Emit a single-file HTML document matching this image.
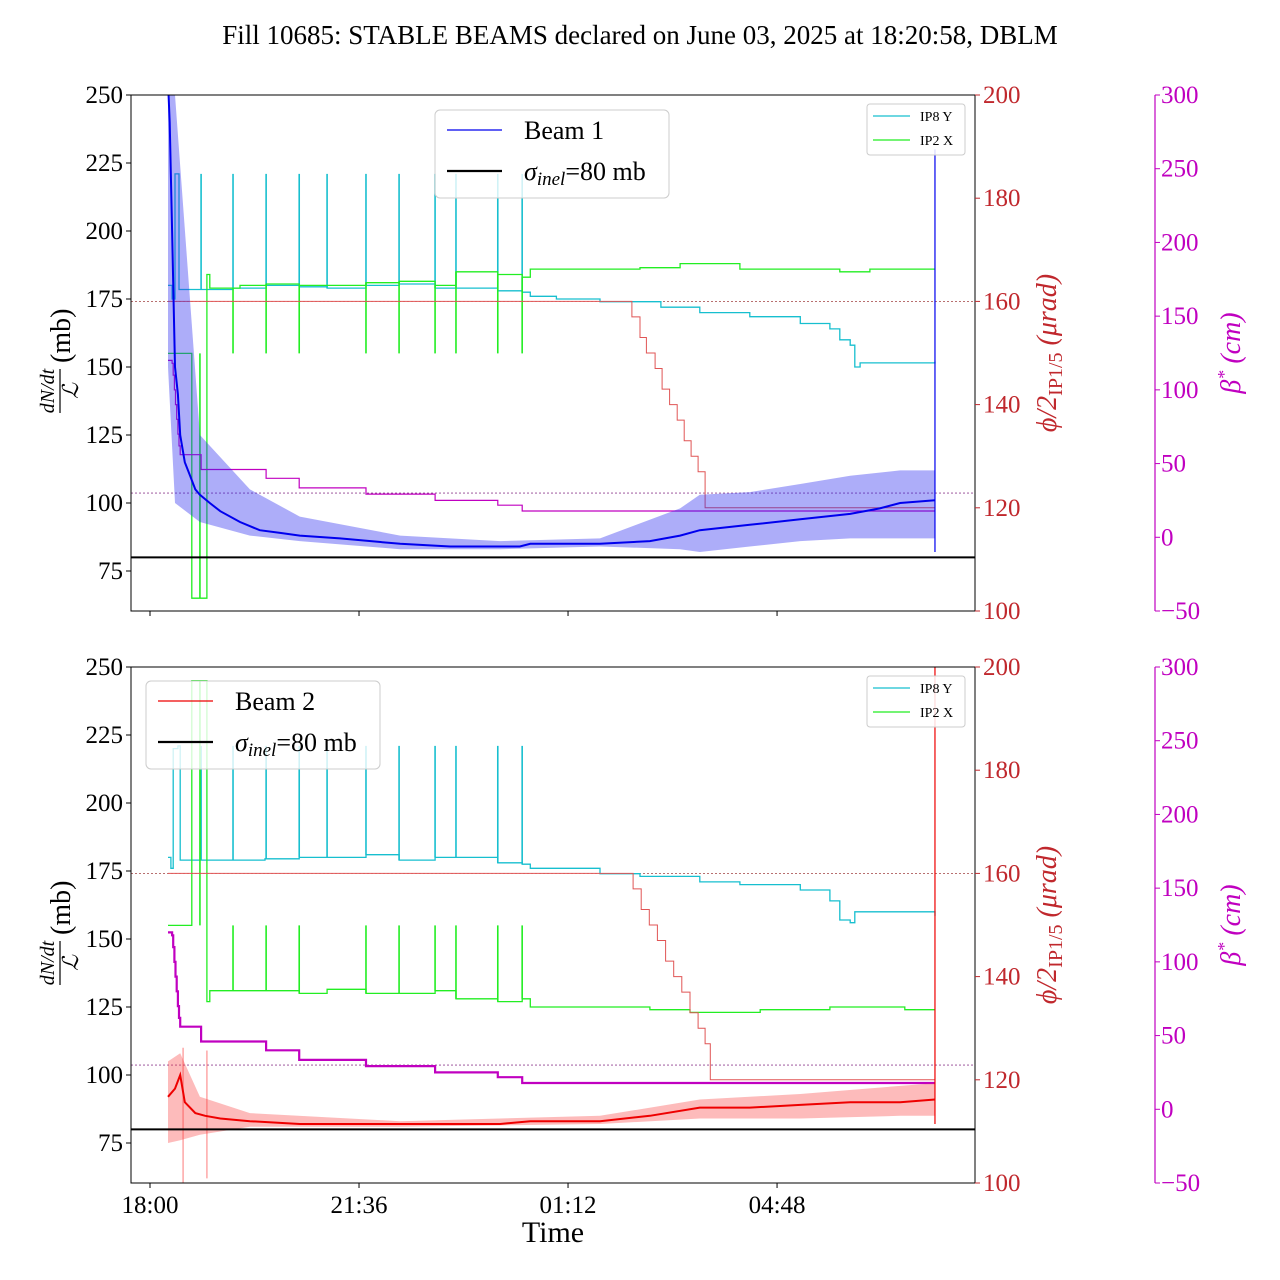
<!DOCTYPE html>
<html><head><meta charset="utf-8">
<style>
html,body{margin:0;padding:0;background:#fff;}
svg{display:block;font-family:"Liberation Serif",serif;}
</style></head>
<body>
<svg id="chart" width="1280" height="1280" viewBox="0 0 1280 1280" xmlns="http://www.w3.org/2000/svg">
<defs>
<clipPath id="clipTop"><rect x="131" y="95" width="844" height="516"/></clipPath>
<clipPath id="clipBot"><rect x="131" y="667" width="844" height="516"/></clipPath>
</defs>
<text x="640" y="44" font-size="27" text-anchor="middle">Fill 10685: STABLE BEAMS declared on June 03, 2025 at 18:20:58, DBLM</text>
<g id="layer"></g>
</svg>
<script>
// ---- data (hours since 18:00) ----
const xTickLabels = ["18:00","21:36","01:12","04:48"];
const xTickHours = [0,3.6,7.2,10.8];
const leftTicks = [75,100,125,150,175,200,225,250];
const redTicks = [100,120,140,160,180,200];
const magTicks = [-50,0,50,100,150,200,250,300];

const spikeT = [0.88,1.43,2.0,2.57,3.05,3.72,4.29,4.91,5.27,5.99,6.41];
const greenSpikeT = [1.43,2.0,2.57,3.72,4.29,4.91,5.27,5.99,6.41];

const b1T = [0.31,0.34,0.38,0.43,0.48,0.52,0.60,0.69,0.78,0.86,1.03,1.21,1.55,1.89,2.24,2.58,3.27,4.31,5.17,6.03,6.37,6.55,7.75,8.61,9.13,9.47,10.33,11.2,12.06,12.57,12.92,13.52];
const b1V = [255,240,200,150,140,125,115,110,105,103,100,97,93,90,89,88,87,85,84,84,84,85,85,86,88,90,92,94,96,98,100,101];
const b1BandT = [0.31,0.43,0.86,1.72,2.58,4.31,6.03,7.75,9.13,9.47,10.33,11.2,12.06,12.92,13.52];
const b1Up = [255,250,125,105,95,88,86,87,98,103,104,107,110,112,112];
const b1Lo = [150,100,93,88,86,83,83,84,83,82,84,86,87,87,87];

const b2T = [0.31,0.43,0.52,0.60,0.78,0.95,1.21,1.72,2.58,4.31,6.03,6.55,7.75,8.61,9.47,10.33,11.2,12.06,12.92,13.52];
const b2V = [92,95,100,90,86,85,84,83,82,82,82,83,83,85,88,88,89,90,90,91];
const b2BandT = [0.31,0.52,0.86,1.72,4.31,7.75,9.47,11.2,12.92,13.52];
const b2Up = [105,108,92,86,83,85,91,93,96,97];
const b2Lo = [75,76,78,81,81,82,84,84,85,85];
const b2SpikeT = [0.57,0.98];
const b2SpikeHi = [110,109];
const b2SpikeLo = [60,62];

const magT = [0.31,0.38,0.40,0.42,0.44,0.46,0.48,0.50,0.52,0.88,2.0,2.57,3.72,4.91,5.99,6.41,13.52];
const magV = [120,118,110,100,90,80,70,62,56,46,40,33.5,29.3,25,21.8,17.8,17.8];

const phiT = [0.31,8.18,8.30,8.44,8.55,8.70,8.82,8.95,9.08,9.20,9.32,9.44,9.56,13.52];
const phiV = [160,160,157,153,150,147,143,140,137,133,130,127,120,120];
const phi2T = [0.31,8.18,8.32,8.46,8.60,8.74,8.88,9.02,9.16,9.30,9.44,9.56,9.65,13.52];
const phi2V = [160,160,157,153,150,147,143,140,137,133,130,127,120,120];

const cyan1T = [0.31,0.38,0.43,0.50,1.20,1.43,2.0,2.57,3.05,3.72,4.29,4.91,5.27,5.99,6.41,6.55,7.0,7.75,8.44,8.8,9.47,10.33,11.2,11.71,11.88,12.06,12.14,12.23,13.52];
const cyan1V = [180,175,221,178.5,178.5,179,180,179.5,179,180,180.5,179,179,178,177.5,176,175,174,174,172,170,168.5,166,164,160,158,150,151.5,152];
const green1T = [0.31,0.72,0.98,1.03,1.55,2.0,2.57,3.72,4.29,4.91,5.27,5.99,6.41,6.55,8.44,9.13,10.16,11.88,12.40,13.52];
const green1V = [155,65,184,179,180,180.5,180,181,181.5,180,185,184,183,186,186.5,188,186,185,186,186];

const cyan2T = [0.31,0.36,0.40,0.48,0.52,1.98,2.57,3.72,4.29,4.91,5.99,6.41,6.55,7.75,8.44,9.47,10.16,11.2,11.71,11.88,12.06,12.14,13.52];
const cyan2V = [180,176,220,221,179,179.5,180,181,179,180,178,177.5,176,174,173,171,170,168,164,157,156,160,158.5];
const green2T = [0.31,0.72,0.98,1.03,2.57,3.05,3.72,4.29,4.91,5.27,5.99,6.41,6.55,8.44,8.61,9.30,10.33,10.51,11.71,13.0,13.52];
const green2V = [155,245,127,131,130,131.5,130,130,131,128,127,128,125,125,124,123,123,124,125,124,124];

// ---- scales ----
const X = h => 150 + h*58.06;
const Y = (v,top) => top + (250-v)*2.72;
const YR = (v,top) => top + (200-v)*5.16;
const YM = (v,top) => top + (300-v)*1.4743;

const NS = "http://www.w3.org/2000/svg";
const layer = document.getElementById('layer');
function mk(tag, attrs, parent){ const e=document.createElementNS(NS,tag); for(const k in attrs) e.setAttribute(k,attrs[k]); (parent||layer).appendChild(e); return e; }

function linePath(T,V,f,top){ return T.map((t,i)=>(i?'L':'M')+X(t).toFixed(1)+' '+f(V[i],top).toFixed(1)).join(' '); }
function stepPath(T,V,f,top){ let d='M'+X(T[0]).toFixed(1)+' '+f(V[0],top).toFixed(1); for(let i=1;i<T.length;i++){ d+=' H'+X(T[i]).toFixed(1)+' V'+f(V[i],top).toFixed(1);} return d; }
function bandPath(T,U,L,top){ let d=T.map((t,i)=>(i?'L':'M')+X(t).toFixed(1)+' '+Y(U[i],top).toFixed(1)).join(' '); for(let i=T.length-1;i>=0;i--) d+=' L'+X(T[i]).toFixed(1)+' '+Y(L[i],top).toFixed(1); return d+'Z'; }
function valAt(T,V,t){ let v=V[0]; for(let i=0;i<T.length;i++){ if(T[i]<=t) v=V[i]; } return v; }

function panel(top, isTop){
  const g = mk('g',{'clip-path':'url(#'+(isTop?'clipTop':'clipBot')+')'});
  
  
  let e = mk('line',{x1:131,x2:975,y1:YR(160,top),y2:YR(160,top),stroke:'#a04040','stroke-width':0.8,'stroke-dasharray':'2,2'},g);
   
  e = mk('line',{x1:131,x2:975,y1:YM(30,top),y2:YM(30,top),stroke:'#904090','stroke-width':0.8,'stroke-dasharray':'2,2'},g);
   

  const cT=isTop?cyan1T:cyan2T, cV=isTop?cyan1V:cyan2V, gT=isTop?green1T:green2T, gV=isTop?green1V:green2V;
  e = mk('path',{d:stepPath(cT,cV,Y,top),fill:'none',stroke:'#17bfcf','stroke-width':1.3},g);
   
  spikeT.forEach(t=>{ const s=mk('line',{x1:X(t),x2:X(t),y1:Y(valAt(cT,cV,t),top),y2:Y(221,top),stroke:'#17bfcf','stroke-width':1.6},g);
      });
  e = mk('path',{d:stepPath(gT,gV,Y,top),fill:'none',stroke:'#22ee22','stroke-width':1.3},g);
   
  greenSpikeT.concat([0.86]).forEach(t=>{ const s=mk('line',{x1:X(t),x2:X(t),y1:Y(valAt(gT,gV,t),top),y2:Y(155,top),stroke:'#22ee22','stroke-width':1.6},g);
      });
  e = mk('path',{d:stepPath(isTop?phiT:phi2T,isTop?phiV:phi2V,YR,top),fill:'none',stroke:'#e05555','stroke-width':1},g);
   
  e = mk('path',{d:stepPath(magT,magV,YM,top),fill:'none',stroke:'#c000c0','stroke-width':isTop?1.2:2.2},g);
   
  const col = isTop?'#0000ee':'#ee0000', bcol=isTop?'rgba(40,40,240,0.38)':'rgba(250,60,60,0.35)';
  e = mk('path',{d:isTop?bandPath(b1BandT,b1Up,b1Lo,top):bandPath(b2BandT,b2Up,b2Lo,top),fill:bcol,stroke:'none'},g);
   
  if(!isTop){
    b2SpikeT.forEach((t,i)=>{ const s=mk('line',{x1:X(t),x2:X(t),y1:Y(b2SpikeLo[i],top),y2:Y(b2SpikeHi[i],top),stroke:'rgba(250,60,60,0.45)','stroke-width':1.5},g);
        });
  }
  e = mk('path',{d:isTop?linePath(b1T,b1V,Y,top):linePath(b2T,b2V,Y,top),fill:'none',stroke:col,'stroke-width':2},g);
   
  e = mk('line',{x1:X(13.52),x2:X(13.52),y1:Y(82,top),y2:isTop?Y(230,top):top,stroke:col,'stroke-width':1.2},g);
   
  e = mk('line',{x1:131,x2:975,y1:Y(80,top),y2:Y(80,top),stroke:'#000','stroke-width':2},g);
   

  e = mk('rect',{x:131,y:top,width:844,height:516,fill:'none',stroke:'#000','stroke-width':1});
   
  leftTicks.forEach(v=>{ const y=Y(v,top);
    mk('line',{x1:126,x2:131,y1:y,y2:y,stroke:'#000'});
    const t=mk('text',{x:123,y:y+8,'font-size':25,'text-anchor':'end'}); t.textContent=v;
      });
  redTicks.forEach(v=>{ const y=YR(v,top);
    mk('line',{x1:975,x2:980,y1:y,y2:y,stroke:'#c0282d'});
    const t=mk('text',{x:983,y:y+8,'font-size':25,fill:'#c0282d'}); t.textContent=v;
      });
  e=mk('line',{x1:1155,x2:1155,y1:top,y2:top+516,stroke:'#c000c0','stroke-width':1.2});
   
  magTicks.forEach(v=>{ const y=YM(v,top);
    mk('line',{x1:1155,x2:1160,y1:y,y2:y,stroke:'#c000c0'});
    const t=mk('text',{x:1161,y:y+8,'font-size':25,fill:'#c000c0'}); t.textContent=(v<0?'\u2212'+(-v):v);
      });
  xTickHours.forEach((h,i)=>{ mk('line',{x1:X(h),x2:X(h),y1:top+516,y2:top+521,stroke:'#000'});
    if(!isTop){ const t=mk('text',{x:X(h),y:top+546,'font-size':25,'text-anchor':'middle'}); t.textContent=xTickLabels[i];
        } });
  const yl = mk('g',{transform:`translate(62,${top+258}) rotate(-90)`});
   
  let t=mk('text',{x:-38,y:-8,'font-size':20,'font-style':'italic','text-anchor':'middle'},yl); t.textContent='dN/dt';
  mk('line',{x1:-60,x2:-16,y1:-2,y2:-2,stroke:'#000','stroke-width':1.2},yl);
  t=mk('text',{x:-38,y:16,'font-size':22,'font-style':'italic','text-anchor':'middle'},yl); t.textContent='\u2112';
  t=mk('text',{x:-10,y:8,'font-size':28}); yl.appendChild(t); t.textContent='(mb)';
  const rl = mk('g',{transform:`translate(1056,${top+258}) rotate(-90)`});
   
  t=mk('text',{x:0,y:0,'font-size':28,fill:'#c0282d','text-anchor':'middle','font-style':'italic'},rl);
  t.innerHTML='\u03D5/2<tspan font-style="normal" font-size="20" dy="6">IP1/5</tspan><tspan dy="-6"> (\u03BCrad)</tspan>';
  const ml = mk('g',{transform:`translate(1240,${top+258}) rotate(-90)`});
   
  t=mk('text',{x:0,y:0,'font-size':28,fill:'#c000c0','text-anchor':'middle','font-style':'italic'},ml);
  t.innerHTML='\u03B2<tspan font-size="18" dy="-10">*</tspan><tspan dy="10"> (cm)</tspan>';

  const sl = mk('g',{});
   
  mk('rect',{x:867,y:top+9,width:98,height:51,rx:3,fill:'#fff','fill-opacity':0.85,stroke:'#ccc'},sl);
  mk('line',{x1:873,x2:910,y1:top+21,y2:top+21,stroke:'#17bfcf','stroke-width':1.3},sl);
  mk('line',{x1:873,x2:910,y1:top+45,y2:top+45,stroke:'#22ee22','stroke-width':1.3},sl);
  t=mk('text',{x:920,y:top+26,'font-size':14},sl); t.textContent='IP8 Y';
  t=mk('text',{x:920,y:top+50,'font-size':14},sl); t.textContent='IP2 X';

  const lx=isTop?435:146, ly=isTop?110:681;
  const lg = mk('g',{});
   
  mk('rect',{x:lx,y:ly,width:234,height:88,rx:5,fill:'#fff','fill-opacity':0.8,stroke:'#ccc'},lg);
  mk('line',{x1:lx+12,x2:lx+67,y1:ly+20,y2:ly+20,stroke:col,'stroke-width':1.2},lg);
  mk('line',{x1:lx+12,x2:lx+67,y1:ly+61,y2:ly+61,stroke:'#000','stroke-width':2.2},lg);
  t=mk('text',{x:lx+89,y:ly+29,'font-size':26},lg); t.textContent=isTop?'Beam 1':'Beam 2';
  t=mk('text',{x:lx+89,y:ly+70,'font-size':26},lg);
  t.innerHTML='<tspan font-style="italic">\u03C3</tspan><tspan font-style="italic" font-size="19" dy="5">inel</tspan><tspan dy="-5">=80 mb</tspan>';
}
panel(95,true);
panel(667,false);
const xl = mk('text',{x:553,y:1242,'font-size':30,'text-anchor':'middle'}); xl.textContent='Time';


</script>
</body></html>
